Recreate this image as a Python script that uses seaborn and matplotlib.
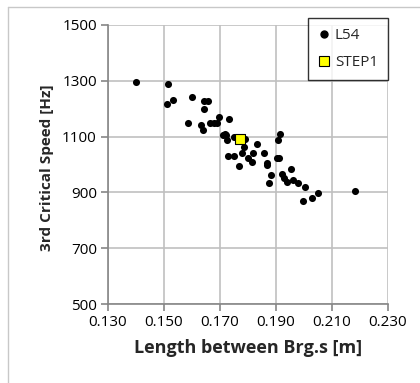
import matplotlib
matplotlib.use("Agg")
import matplotlib.pyplot as plt
import seaborn as sns
import pandas as pd
from matplotlib.lines import Line2D

# L54 series
l54_length = [0.140, 0.1513, 0.151, 0.1533, 0.160, 0.1587, 0.1644, 0.1656, 0.1643,
              0.1632, 0.1640, 0.1664, 0.1679, 0.1688, 0.1698, 0.1732, 0.1710, 0.1718,
              0.1721, 0.1724, 0.1730, 0.1750, 0.1750, 0.1767, 0.1790, 0.1787, 0.1777,
              0.1799, 0.1815, 0.1819, 0.1831, 0.1858, 0.1867, 0.1869, 0.1883, 0.1875,
              0.1902, 0.1910, 0.1908, 0.1913, 0.1923, 0.1929, 0.1938, 0.1952, 0.1962,
              0.1978, 0.2005, 0.1998, 0.2027, 0.2050, 0.2181]
l54_speed = [1295, 1290, 1218, 1232, 1243, 1149, 1229, 1229, 1198,
             1141, 1123, 1147, 1149, 1148, 1171, 1163, 1105, 1108,
             1105, 1088, 1032, 1031, 1098, 995, 1092, 1063, 1040,
             1025, 1009, 1040, 1072, 1042, 997, 1004, 964, 933,
             1024, 1024, 1087, 1110, 965, 950, 937, 984, 946,
             935, 920, 868, 880, 897, 906]

# STEP1 point
step1_length = [0.1771]
step1_speed = [1090]

x_ticks = [0.130, 0.150, 0.170, 0.190, 0.210, 0.230]
y_ticks = [500, 700, 900, 1100, 1300, 1500]

sns.set_theme(style="white")
plt.rcParams['font.family'] = ['Open Sans', 'DejaVu Sans']

fig = plt.figure(figsize=(4.2, 3.83), dpi=100)
ax = fig.add_axes([108/420, 1-304/383, 280/420, 279/383])

df1 = pd.DataFrame({"x": l54_length, "y": l54_speed})
df2 = pd.DataFrame({"x": step1_length, "y": step1_speed})
sns.scatterplot(data=df1, x="x", y="y", ax=ax, color="black", s=26,
                edgecolor="black", linewidth=0, zorder=3, legend=False)
sns.scatterplot(data=df2, x="x", y="y", ax=ax, color="#ffff00", marker="s", s=60,
                edgecolor="black", linewidth=0.8, zorder=4, legend=False)

ax.set_xlim(0.130, 0.230)
ax.set_ylim(500, 1500)
ax.set_xticks(x_ticks)
ax.set_yticks(y_ticks)
ax.set_xticklabels([f"{v:.3f}" for v in x_ticks], fontsize=11)
ax.set_yticklabels([str(v) for v in y_ticks], fontsize=11)
ax.grid(True, color="#c0c0c0", linewidth=1.2)
ax.set_axisbelow(True)
for side in ["top", "right"]:
    ax.spines[side].set_visible(False)
for side in ["left", "bottom"]:
    ax.spines[side].set_color("#868686")
    ax.spines[side].set_linewidth(1.2)
ax.tick_params(axis="both", which="both", direction="out", length=5, width=1.2,
               color="#868686", left=True, bottom=True, pad=3, labelcolor="black")
ax.set_xlabel("Length between Brg.s [m]", fontsize=13, fontweight="bold")
ax.set_ylabel("3rd Critical Speed [Hz]", fontsize=11, fontweight="bold")
ax.xaxis.set_label_coords(0.5, (304 - 339) / 279)
ax.yaxis.set_label_coords((54 - 108) / 280, (304 - 168) / 279)

handles = [Line2D([], [], marker="o", color="black", linestyle="none", markersize=5),
           Line2D([], [], marker="s", markerfacecolor="#ffff00", markeredgecolor="black",
                  linestyle="none", markersize=6.5, markeredgewidth=0.8)]
leg = ax.legend(handles, ["L54", "STEP1"], loc="upper right",
                bbox_to_anchor=(388/420, 1-18/383), bbox_transform=fig.transFigure,
                frameon=True, fancybox=False, shadow=False, fontsize=11,
                handlelength=0.8, handletextpad=0.3, labelspacing=0.8,
                borderpad=0.65, borderaxespad=0)
leg.get_frame().set_edgecolor("black")
leg.get_frame().set_linewidth(1.0)

# outer chart border (left and top)
fig.add_artist(Line2D([8/420, 8/420], [0, 1-7/383], transform=fig.transFigure,
                      color="#c8c8c8", linewidth=1.0))
fig.add_artist(Line2D([8/420, 1], [1-7/383, 1-7/383], transform=fig.transFigure,
                      color="#c8c8c8", linewidth=1.0))

fig.savefig("out.png", dpi=100)
